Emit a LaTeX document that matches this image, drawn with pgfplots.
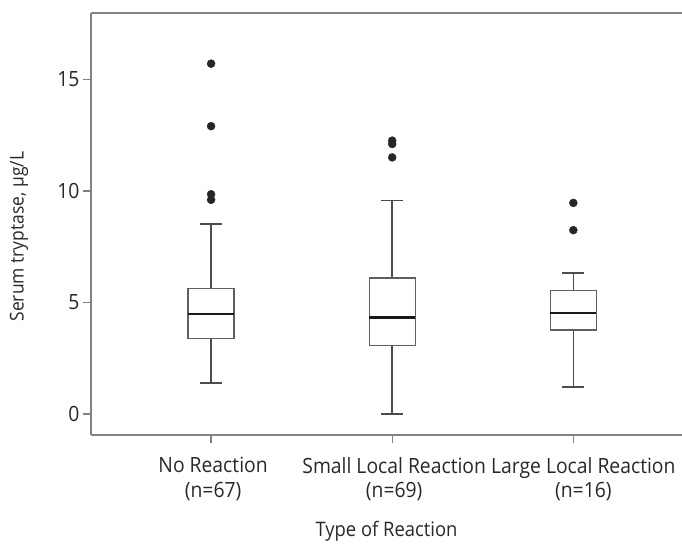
\documentclass[border=0pt]{standalone}
\usepackage{fontspec}
\setmainfont{Open Sans}[FakeStretch=0.92]
\usepackage{pgfplots}
\pgfplotsset{compat=1.18}
\usepgfplotslibrary{statistics}

\definecolor{axisgray}{RGB}{130,130,130}
\definecolor{boxgray}{RGB}{95,95,95}
\definecolor{txt}{RGB}{40,40,40}

\begin{document}
\begin{tikzpicture}
\begin{axis}[
    at={(0,0)}, anchor=south west,
    scale only axis,
    width=591pt, height=422pt,
    xmin=-0.663, xmax=2.60,
    ymin=-0.94, ymax=17.97,
    axis x line*=bottom,
    axis y line*=left,
    axis line style={axisgray, line width=1.4pt},
    tick align=outside,
    major tick length=8pt,
    tick style={axisgray, line width=1.4pt},
    xtick={0,1,2},
    xticklabels={{No Reaction\\(n=67)},{Small Local Reaction\\(n=69)},
        {\hspace*{16pt}Large Local Reaction\\\hspace*{16pt}(n=16)}},
    xticklabel style={align=center, yshift=-11pt, xshift=2pt},
    ytick={0,5,10,15},
    /pgf/number format/assume math mode=true,
    tick label style={font=\fontsize{21}{24.5}\selectfont, text=txt},
    xlabel={Type of Reaction},
    ylabel={Serum tryptase, µg/L},
    every axis x label/.style={at={(rel axis cs:0.5,0)}, yshift=-96pt, anchor=center,
        font=\fontsize{20}{24}\selectfont, text=txt},
    every axis y label/.style={at={(rel axis cs:0,0.47)}, xshift=-72pt, rotate=90, anchor=center,
        font=\fontsize{19}{23}\selectfont, text=txt},
    boxplot/draw direction=y,
    boxplot/every box/.style={draw=boxgray, line width=1.3pt, fill=white},
    boxplot/every whisker/.style={draw=boxgray!80!black, line width=1.6pt},
    boxplot/every median/.style={draw=black!90, line width=2.4pt},
    clip=false,
]
\addplot[mark=*, mark size=4pt, mark options={fill=black!85, draw=black!85},
    boxplot prepared={median=4.48, upper quartile=5.64, lower quartile=3.40,
        upper whisker=8.52, lower whisker=1.39,
        draw position=0, box extend=0.254, whisker extend=0.12}]
    coordinates {(0,15.7) (0,12.9) (0,9.85) (0,9.6)};
\addplot[mark=*, mark size=4pt, mark options={fill=black!85, draw=black!85},
    boxplot prepared={median=4.32, upper quartile=6.09, lower quartile=3.06,
        upper whisker=9.57, lower whisker=0.0,
        draw position=1, box extend=0.254, whisker extend=0.12}]
    coordinates {(0,12.25) (0,12.1) (0,11.5)};
\addplot[mark=*, mark size=4pt, mark options={fill=black!85, draw=black!85},
    boxplot prepared={median=4.52, upper quartile=5.52, lower quartile=3.76,
        upper whisker=6.31, lower whisker=1.22,
        draw position=2, box extend=0.254, whisker extend=0.12}]
    coordinates {(0,9.46) (0,8.24)};
\draw[axisgray, line width=1.4pt] (rel axis cs:0,1) -- (rel axis cs:1,1);
\end{axis}
\pgfresetboundingbox
\useasboundingbox (-91pt,-109pt) rectangle (591pt,435pt);
\end{tikzpicture}
\end{document}
